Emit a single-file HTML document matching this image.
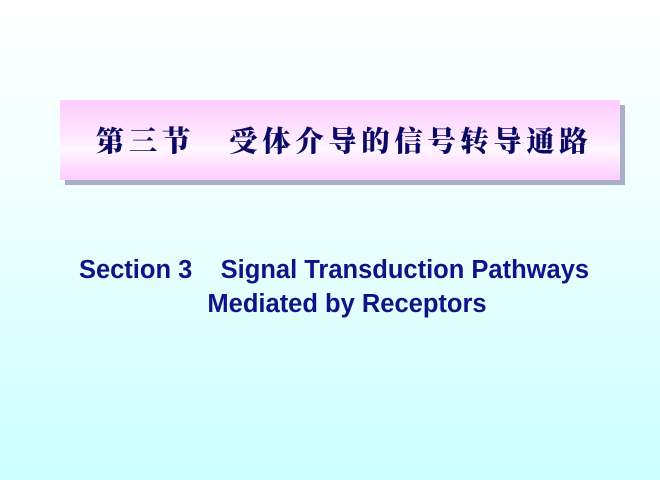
<!DOCTYPE html>
<html><head><meta charset="utf-8"><style>
html,body{margin:0;padding:0}
body{width:660px;height:480px;overflow:hidden;position:relative;background:linear-gradient(to bottom,#ffffff 0%,#f0ffff 40%,#ccffff 100%);font-family:"Liberation Sans",sans-serif}
.shadow{position:absolute;left:65px;top:105px;width:560px;height:80px;background:#a9aec9}
.box{position:absolute;left:60px;top:100px;width:560px;height:80px;background:linear-gradient(to bottom,#ffccff 0%,#ffe6ff 45%,#fff6ff 62%,#ffccff 100%)}
.cn{position:absolute;left:4px;width:560px;top:20px;text-align:center;font-family:"Noto Serif CJK SC","WenQuanYi Zen Hei",serif;font-weight:900;font-size:28.5px;color:#0a0a66;letter-spacing:4.5px;line-height:40px;white-space:pre}
.en{position:absolute;left:0;width:660px;text-align:center;font-weight:bold;font-size:25.5px;color:#111188;white-space:pre;line-height:30px}
</style></head><body>
<div class="shadow"></div>
<div class="box"><div class="cn">第三节   受体介导的信号转导通路</div></div>
<div class="en" style="top:255px;left:4px">Section 3    Signal Transduction Pathways</div>
<div class="en" style="top:289px;left:17px">Mediated by Receptors</div>
</body></html>
